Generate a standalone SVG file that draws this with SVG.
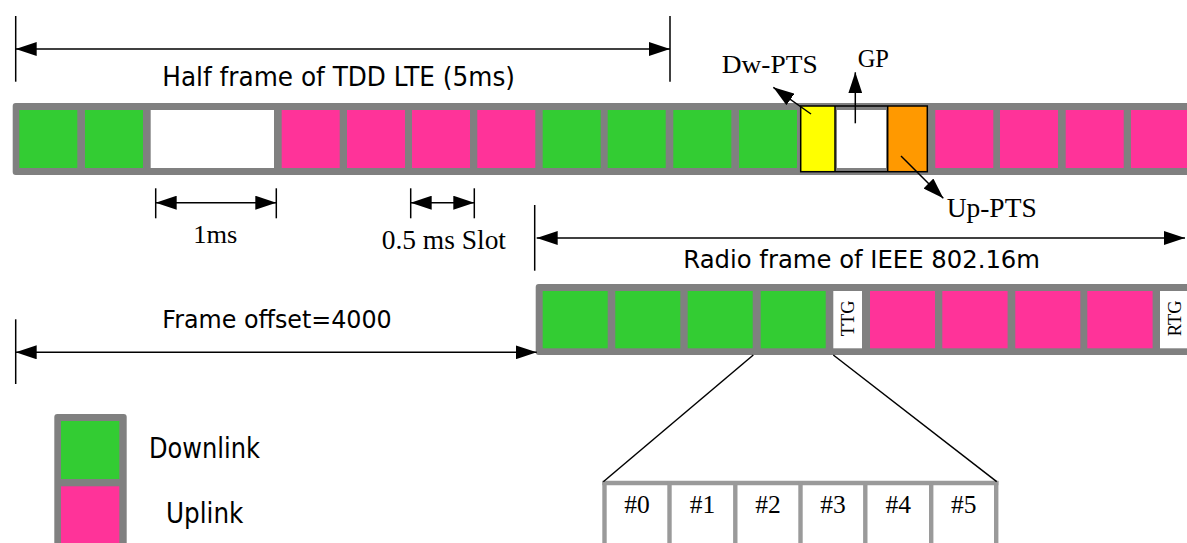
<svg xmlns="http://www.w3.org/2000/svg" width="1187" height="543" viewBox="0 0 1187 543">
<style>
.bar{fill:#808080}
.dl{fill:#33cc33}
.ul{fill:#ff3399}
.wh{fill:#ffffff}
.ln{stroke:#000;stroke-width:1.5;fill:none}
.sans{font-family:"DejaVu Sans","Liberation Sans",sans-serif;fill:#000}
.serif{font-family:"Liberation Serif","Times New Roman",serif;fill:#000}
.slot{stroke:#9a9a9a;stroke-width:4.4;fill:none}
</style>
<defs>
<marker id="ah" markerUnits="userSpaceOnUse" markerWidth="22" markerHeight="14" refX="21" refY="7" orient="auto-start-reverse">
<path d="M0,0 L21,7 L0,14 Z" fill="#000"/>
</marker>
</defs>
<rect width="1187" height="543" fill="#fff"/>

<g id="tdd-half-frame">
<rect class="bar" x="12.7" y="103" width="1190" height="72" rx="3"/>
<rect class="dl" x="19.3" y="110" width="58" height="58"/>
<rect class="dl" x="85" y="110" width="58" height="58"/>
<rect class="wh" x="150.7" y="110" width="123.3" height="58"/>
<rect class="ul" x="281.7" y="110" width="58" height="58"/>
<rect class="ul" x="347" y="110" width="58" height="58"/>
<rect class="ul" x="412" y="110" width="58" height="58"/>
<rect class="ul" x="477.3" y="110" width="58" height="58"/>
<rect class="dl" x="542.7" y="110" width="58" height="58"/>
<rect class="dl" x="607.7" y="110" width="58" height="58"/>
<rect class="dl" x="673.3" y="110" width="58" height="58"/>
<rect class="dl" x="739" y="110" width="58" height="58"/>
<rect class="ul" x="935.3" y="110" width="58" height="58"/>
<rect class="ul" x="1000" y="110" width="58" height="58"/>
<rect class="ul" x="1065.7" y="110" width="58" height="58"/>
<rect class="ul" x="1131" y="110" width="58" height="58"/>
</g>

<g id="special-subframe">
<rect x="800.7" y="106" width="34.3" height="65.7" fill="#ffff00"/>
<rect class="wh" x="837" y="110" width="49" height="58"/>
<rect x="887.7" y="106" width="39.6" height="65.7" fill="#ff9900"/>
<rect x="800.7" y="106" width="126.6" height="65.7" fill="none" stroke="#000" stroke-width="1.5"/>
<line x1="835" y1="106" x2="835" y2="171.7" stroke="#000" stroke-width="1.5"/>
<line x1="887.7" y1="106" x2="887.7" y2="171.7" stroke="#000" stroke-width="1.5"/>
</g>

<g id="ieee-radio-frame">
<rect class="bar" x="535.7" y="284" width="660" height="71" rx="3"/>
<rect class="dl" x="542.7" y="291" width="65" height="57.3"/>
<rect class="dl" x="615.3" y="291" width="65" height="57.3"/>
<rect class="dl" x="687.7" y="291" width="65" height="57.3"/>
<rect class="dl" x="760.7" y="291" width="65" height="57.3"/>
<rect class="wh" x="833.3" y="291" width="28.7" height="57.3"/>
<rect class="ul" x="870" y="291" width="65" height="57.3"/>
<rect class="ul" x="942.3" y="291" width="65.3" height="57.3"/>
<rect class="ul" x="1015.3" y="291" width="65" height="57.3"/>
<rect class="ul" x="1087.3" y="291" width="65.3" height="57.3"/>
<rect class="wh" x="1160" y="291" width="40" height="57.3"/>
<text class="serif" x="854" y="318.3" font-size="18.5" text-anchor="middle" transform="rotate(-90 854 318.3)">TTG</text>
<text class="serif" x="1181.5" y="318.3" font-size="18.5" text-anchor="middle" transform="rotate(-90 1181.5 318.3)">RTG</text>
</g>

<g id="subframe-slots">
<line class="slot" x1="602.3" y1="483" x2="998.4" y2="483"/>
<line class="slot" x1="604.5" y1="481" x2="604.5" y2="545"/>
<line class="slot" x1="669.5" y1="481" x2="669.5" y2="545"/>
<line class="slot" x1="735.3" y1="481" x2="735.3" y2="545"/>
<line class="slot" x1="800.5" y1="481" x2="800.5" y2="545"/>
<line class="slot" x1="865.3" y1="481" x2="865.3" y2="545"/>
<line class="slot" x1="931.2" y1="481" x2="931.2" y2="545"/>
<line class="slot" x1="996.2" y1="481" x2="996.2" y2="545"/>
<text class="serif" font-size="25.5" text-anchor="middle" y="513.3"><tspan x="637">#0</tspan><tspan x="702.4">#1</tspan><tspan x="767.9">#2</tspan><tspan x="832.9">#3</tspan><tspan x="898.2">#4</tspan><tspan x="963.7">#5</tspan></text>
</g>

<g id="legend">
<rect class="bar" x="54.3" y="414" width="72.4" height="140" rx="3"/>
<rect class="dl" x="61" y="421" width="58.3" height="58"/>
<rect class="ul" x="61" y="486.3" width="58.3" height="60"/>
<text class="sans" x="149" y="458.3" font-size="28" textLength="111" lengthAdjust="spacingAndGlyphs">Downlink</text>
<text class="sans" x="166" y="522.7" font-size="28" textLength="77.3" lengthAdjust="spacingAndGlyphs">Uplink</text>
</g>

<g id="labels">
<text class="sans" x="162.3" y="86" font-size="26.5" textLength="352.7" lengthAdjust="spacingAndGlyphs">Half frame of TDD LTE (5ms)</text>
<text class="sans" x="162.3" y="328.3" font-size="24" textLength="229.4" lengthAdjust="spacingAndGlyphs">Frame offset=4000</text>
<text class="sans" x="683.3" y="268.3" font-size="24" textLength="356.7" lengthAdjust="spacingAndGlyphs">Radio frame of IEEE 802.16m</text>
<text class="serif" x="721.7" y="72.5" font-size="26" textLength="96" lengthAdjust="spacingAndGlyphs">Dw-PTS</text>
<text class="serif" x="857.7" y="66.7" font-size="25" textLength="31.3" lengthAdjust="spacingAndGlyphs">GP</text>
<text class="serif" x="946.7" y="216.7" font-size="26.5" textLength="90" lengthAdjust="spacingAndGlyphs">Up-PTS</text>
<text class="serif" x="193.3" y="243.3" font-size="26" textLength="44" lengthAdjust="spacingAndGlyphs">1ms</text>
<text class="serif" x="381.7" y="249.3" font-size="27" textLength="124.3" lengthAdjust="spacingAndGlyphs">0.5 ms Slot</text>
</g>

<g id="connectors">
<line class="ln" x1="15.7" y1="16" x2="15.7" y2="81.7"/>
<line class="ln" x1="670" y1="16" x2="670" y2="81.7"/>
<line class="ln" x1="15.7" y1="49" x2="670" y2="49" marker-start="url(#ah)" marker-end="url(#ah)"/>

<line class="ln" x1="155.7" y1="188.3" x2="155.7" y2="218.3"/>
<line class="ln" x1="276.3" y1="188.3" x2="276.3" y2="218.3"/>
<line class="ln" x1="155.7" y1="202.7" x2="276.3" y2="202.7" marker-start="url(#ah)" marker-end="url(#ah)"/>

<line class="ln" x1="410.7" y1="188.3" x2="410.7" y2="218.3"/>
<line class="ln" x1="474.3" y1="188.3" x2="474.3" y2="218.3"/>
<line class="ln" x1="410.7" y1="202.7" x2="474.3" y2="202.7" marker-start="url(#ah)" marker-end="url(#ah)"/>

<line class="ln" x1="534.7" y1="205" x2="534.7" y2="270.7"/>
<line class="ln" x1="536.7" y1="238" x2="1185" y2="238" marker-start="url(#ah)" marker-end="url(#ah)"/>

<line class="ln" x1="15.7" y1="319.3" x2="15.7" y2="384"/>
<line class="ln" x1="15.7" y1="352.3" x2="536.7" y2="352.3" marker-start="url(#ah)" marker-end="url(#ah)"/>

<line class="ln" x1="811" y1="114" x2="773.3" y2="87.3" marker-end="url(#ah)"/>
<line class="ln" x1="855.3" y1="123.3" x2="855.3" y2="72.3" marker-end="url(#ah)"/>
<line class="ln" x1="901" y1="156" x2="943.3" y2="198.3" marker-end="url(#ah)"/>

<line class="ln" x1="753.3" y1="355" x2="603.3" y2="481.7"/>
<line class="ln" x1="833.3" y1="355" x2="996.7" y2="481.7"/>
</g>
</svg>
